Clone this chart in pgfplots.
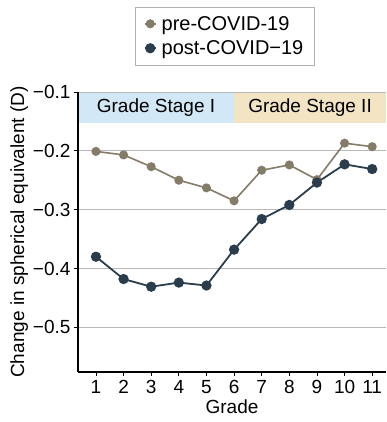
\documentclass[border=0pt]{standalone}
\usepackage{pgfplots}
\pgfplotsset{compat=1.18}
\usepackage{fontspec}
\setmainfont{Liberation Sans}
\definecolor{preC}{HTML}{857B69}
\definecolor{postC}{HTML}{2A3D4D}
\definecolor{bandA}{HTML}{D3E8F6}
\definecolor{bandB}{HTML}{F3E5C4}
\definecolor{gridC}{HTML}{B8B8B8}
\begin{document}
\begin{tikzpicture}
\begin{axis}[
  set layers,
  at={(78pt,50pt)}, anchor=south west,
  width=308pt, height=280pt, scale only axis,
  xmin=0.35, xmax=11.5, ymin=-0.576, ymax=-0.1,
  axis lines*=left,
  axis line style={draw=black, line width=1.1pt, -},
  xtick={1,2,3,4,5,6,7,8,9,10,11},
  xticklabels={1,2,3,4,5,6,7,8,9,10,11},
  ytick={-0.5,-0.4,-0.3,-0.2,-0.1},
  yticklabels={−0.5,−0.4,−0.3,−0.2,−0.1},
  tick align=outside,
  major tick length=4pt,
  tick style={black, line width=0.8pt},
  xticklabel style={yshift=-1pt},
  ymajorgrids,
  grid style={gridC, line width=0.9pt},
  ticklabel style={font=\fontsize{19}{22}\selectfont},
  label style={font=\fontsize{19}{22}\selectfont},
  xlabel={Grade},
  xlabel style={yshift=1pt},
  ylabel={Change in spherical equivalent (D)},
  ylabel style={yshift=-2pt},
  legend style={at={(axis description cs:0.476,1.304)}, anchor=north,
    draw=gray!60, font=\fontsize{20}{23}\selectfont,
    cells={anchor=west, font=\fontsize{20}{23}\selectfont},
    inner xsep=9pt, inner ysep=7pt, row sep=5pt, column sep=3pt},
  legend image code/.code={\draw[mark repeat=2,mark phase=2] plot coordinates {(0pt,0pt)(5.5pt,0pt)(11pt,0pt)};},
]
\addplot[fill=bandA, draw=none, on layer=axis background, forget plot] coordinates {(0.35,-0.1) (6,-0.1) (6,-0.152) (0.35,-0.152)} -- cycle;
\addplot[fill=bandB, draw=none, on layer=axis background, forget plot] coordinates {(6,-0.1) (11.5,-0.1) (11.5,-0.152) (6,-0.152)} -- cycle;
\node[font=\fontsize{19}{22}\selectfont] at (axis cs:3.175,-0.126) {Grade Stage I};
\node[font=\fontsize{19}{22}\selectfont] at (axis cs:8.75,-0.126) {Grade Stage II};
\addplot[preC, line width=1.6pt, mark=*, mark size=3.7pt] coordinates {
 (1,-0.201) (2,-0.207) (3,-0.227) (4,-0.250) (5,-0.263) (6,-0.285)
 (7,-0.233) (8,-0.224) (9,-0.249) (10,-0.187) (11,-0.193)};
\addlegendentry{pre-COVID-19}
\addplot[postC, line width=1.8pt, mark=*, mark size=4.2pt] coordinates {
 (1,-0.380) (2,-0.418) (3,-0.431) (4,-0.424) (5,-0.429) (6,-0.368)
 (7,-0.316) (8,-0.292) (9,-0.254) (10,-0.223) (11,-0.231)};
\addlegendentry{post-COVID−19}
\end{axis}
\pgfresetboundingbox
\useasboundingbox (0pt,0pt) rectangle (386pt,422pt);
\end{tikzpicture}
\end{document}
